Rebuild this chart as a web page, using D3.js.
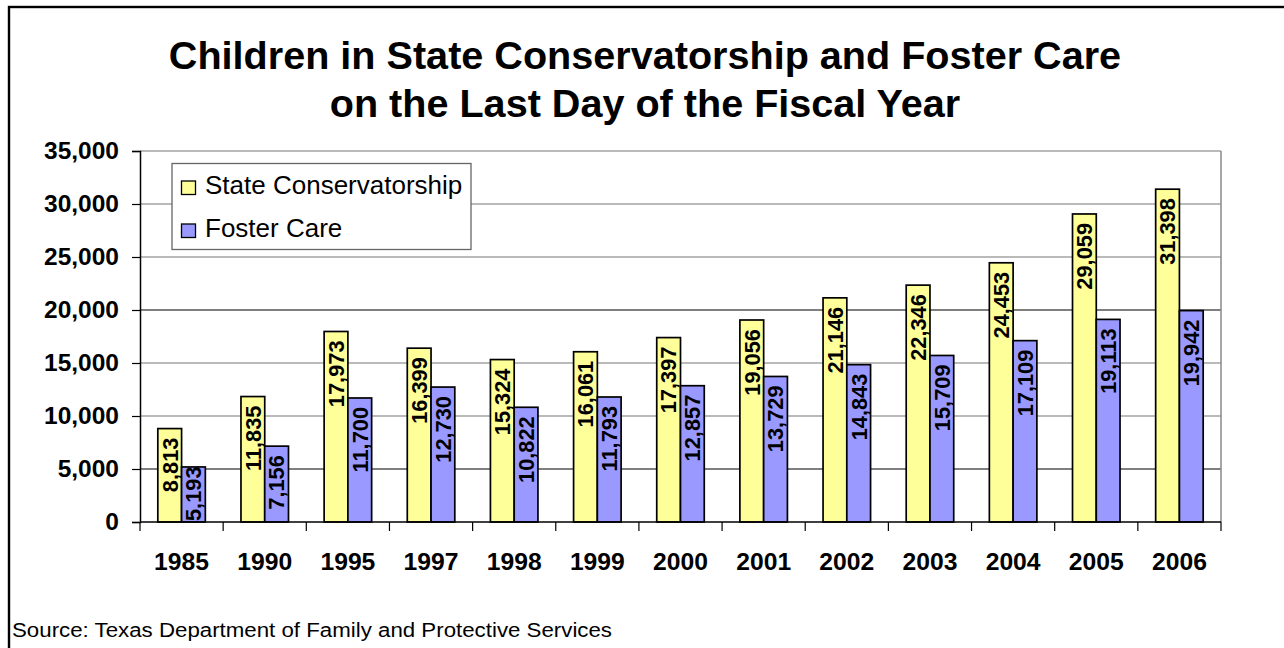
<!DOCTYPE html>
<html><head><meta charset="utf-8">
<script src="https://cdn.jsdelivr.net/npm/d3@7/dist/d3.min.js"></script>
<style>html,body{margin:0;padding:0;background:#fff;overflow:hidden}svg{display:block;font-family:"Liberation Sans",Arial,Helvetica,sans-serif}</style>
</head><body>
<svg id="c" width="1284" height="648"></svg>
<script>
const years = ["1985","1990","1995","1997","1998","1999","2000","2001","2002","2003","2004","2005","2006"];
const conservatorship = [8813,11835,17973,16399,15324,16061,17397,19056,21146,22346,24453,29059,31398];
const fosterCare = [5193,7156,11700,12730,10822,11793,12857,13729,14843,15709,17109,19113,19942];
const seriesNames = ["State Conservatorship","Foster Care"];
const yTicks = [0,5000,10000,15000,20000,25000,30000,35000];
const titleLines = ["Children in State Conservatorship and Foster Care","on the Last Day of the Fiscal Year"];
const sourceText = "Source: Texas Department of Family and Protective Services";

const colors = ["#FFFF99","#9999FF"];
const svg = d3.select("#c");
const L = 140, R = 1221, T = 151, B = 522;

// outer frame
svg.append("rect").attr("x",9).attr("y",7).attr("width",1300).attr("height",700)
  .attr("fill","none").attr("stroke","#000").attr("stroke-width",2.4);

// title
svg.selectAll("text.title").data(titleLines).join("text").attr("class","title")
  .attr("x",645).attr("y",(d,i)=>69+i*48).attr("text-anchor","middle")
  .attr("font-size",39.6).attr("font-weight","bold").attr("fill","#000").text(d=>d);

const x = d3.scaleBand().domain(years).range([L,R]).paddingInner(0).paddingOuter(0);
const barW = x.bandwidth()/3.5;
const xs = d3.scaleBand().domain([0,1]).range([0,barW*2]);
const y = d3.scaleLinear().domain([0,35000]).range([B,T]);

// gridlines
svg.append("g").selectAll("line").data(yTicks.filter(d=>d>0)).join("line")
  .attr("x1",L).attr("x2",R).attr("y1",d=>y(d)).attr("y2",d=>y(d))
  .attr("stroke",d=>(d===5000||d===20000)?"#000":"#777").attr("stroke-width",1.2);
// right border of plot
svg.append("line").attr("x1",R).attr("x2",R).attr("y1",T).attr("y2",B).attr("stroke","#888").attr("stroke-width",1.5);

// y axis
const yAxis = d3.axisLeft(y).tickValues(yTicks).tickSize(8).tickPadding(13).tickFormat(d3.format(","));
const ya = svg.append("g").attr("transform",`translate(${L},0)`).call(yAxis);
ya.select(".domain").attr("stroke","#000").attr("stroke-width",1.5);
ya.selectAll(".tick line").attr("stroke","#000").attr("stroke-width",1.2);
ya.selectAll(".tick text").attr("font-size",24.5).attr("font-weight","bold").attr("fill","#000")
  .attr("font-family","'Liberation Sans',Arial,sans-serif");

// bars
const series = [conservatorship, fosterCare];
const groups = svg.append("g");
series.forEach((vals,si)=>{
  const g = groups.append("g");
  g.selectAll("rect").data(vals).join("rect")
    .attr("x",(d,i)=>x(years[i]) + (x.bandwidth()-barW*2)/2 + xs(si))
    .attr("y",d=>y(d)).attr("width",barW).attr("height",d=>B-y(d))
    .attr("fill",colors[si]).attr("stroke","#000").attr("stroke-width",1.7);
});

// x axis
const xAxis = d3.axisBottom(x).tickSize(0).tickPadding(30);
const xa = svg.append("g").attr("transform",`translate(0,${B})`).call(xAxis);
xa.select(".domain").remove();
xa.selectAll(".tick text").attr("font-size",24.7).attr("font-weight","bold").attr("fill","#000")
  .attr("font-family","'Liberation Sans',Arial,sans-serif");
svg.append("line").attr("x1",L).attr("x2",R).attr("y1",B).attr("y2",B).attr("stroke","#000").attr("stroke-width",1.5);
// category boundary ticks
const bounds = years.map(d=>x(d)).concat([R]);
svg.append("g").selectAll("line").data(bounds).join("line")
  .attr("x1",d=>d).attr("x2",d=>d).attr("y1",B).attr("y2",B+9)
  .attr("stroke","#000").attr("stroke-width",1.2);

// bar labels
const fmt = d3.format(",");
const labelFs = 21.8;
series.forEach((vals,si)=>{
  svg.append("g").selectAll("text").data(vals).join("text")
    .each(function(d,i){
      const cx = x(years[i]) + (x.bandwidth()-barW*2)/2 + xs(si) + barW/2;
      const t = d3.select(this).attr("font-size",labelFs).attr("font-weight","bold").attr("fill","#000").text(fmt(d));
      const len = this.getComputedTextLength();
      let endY = y(d) + 9;
      if (endY + len > B - 1) endY = B - 1 - len;
      t.attr("text-anchor","end").attr("dy","0.36em")
       .attr("transform",`translate(${cx},${endY}) rotate(-90)`);
    });
});

// legend
const lg = svg.append("g");
lg.append("rect").attr("x",172).attr("y",163.5).attr("width",299).attr("height",86)
  .attr("fill","#fff").attr("stroke","#666").attr("stroke-width",1.3);
seriesNames.forEach((n,i)=>{
  lg.append("rect").attr("x",181.5).attr("y",181+i*43).attr("width",14).attr("height",13.5)
    .attr("fill",colors[i]).attr("stroke","#000").attr("stroke-width",1.3);
  lg.append("text").attr("x",205).attr("y",193.5+i*43).attr("font-size",26).attr("fill","#000").text(n);
});

// source
svg.append("text").attr("x",12).attr("y",637).attr("font-size",20).attr("fill","#000")
  .attr("textLength",600).attr("lengthAdjust","spacingAndGlyphs").text(sourceText);
</script>
</body></html>
